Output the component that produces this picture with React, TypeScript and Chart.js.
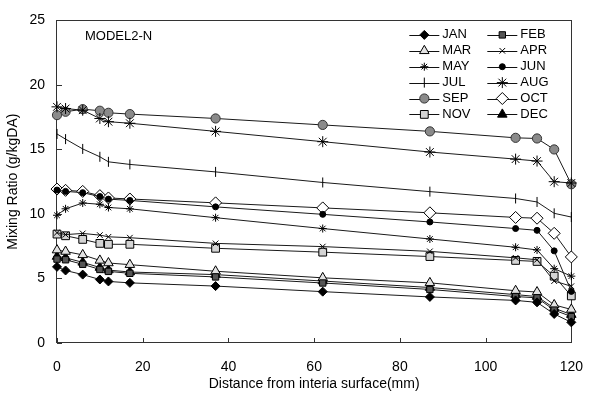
import React, { useEffect, useRef } from 'react';
import { Chart, registerables } from 'chart.js';
import { drawPoint } from 'chart.js/helpers';

Chart.register(...registerables);

// ---- data ----
const distances = [0, 2, 6, 10, 12, 17, 37, 62, 87, 107, 112, 116, 120];
const months = ['JAN', 'FEB', 'MAR', 'APR', 'MAY', 'JUN', 'JUL', 'AUG', 'SEP', 'OCT', 'NOV', 'DEC'];
const jan = [5.9, 5.62, 5.3, 4.92, 4.77, 4.66, 4.41, 3.98, 3.57, 3.3, 3.15, 2.25, 1.6];
const feb = [6.5, 6.45, 6.1, 5.7, 5.55, 5.4, 5.12, 4.65, 4.15, 3.6, 3.5, 2.55, 2.05];
const mar = [7.2, 7.09, 6.83, 6.4, 6.2, 6.07, 5.56, 5.05, 4.66, 4.05, 3.95, 2.95, 2.6];
const apr = [8.55, 8.4, 8.49, 8.36, 8.23, 8.16, 7.72, 7.47, 7.1, 6.6, 6.45, 4.8, 4.4];
const may = [9.9, 10.4, 10.85, 10.75, 10.5, 10.4, 9.71, 8.87, 8.06, 7.42, 7.21, 5.76, 5.18];
const jun = [11.85, 11.75, 11.65, 11.35, 11.15, 11.05, 10.55, 9.97, 9.38, 8.87, 8.73, 7.14, 4.0];
const jul = [16.2, 15.8, 15.04, 14.43, 14.04, 13.84, 13.26, 12.44, 11.73, 11.2, 10.93, 10.05, 9.76];
const aug = [18.3, 18.17, 18.04, 17.4, 17.15, 17.03, 16.4, 15.6, 14.8, 14.25, 14.1, 12.5, 12.4];
const sep = [17.66, 17.92, 18.12, 18.0, 17.84, 17.74, 17.4, 16.9, 16.4, 15.9, 15.85, 15.0, 12.3];
const oct = [11.93, 11.83, 11.75, 11.42, 11.24, 11.16, 10.86, 10.47, 10.09, 9.73, 9.67, 8.5, 6.67];
const nov = [8.44, 8.31, 8.03, 7.72, 7.65, 7.65, 7.34, 7.04, 6.7, 6.4, 6.32, 5.18, 3.65];
const dec = [6.7, 6.6, 6.25, 5.85, 5.65, 5.5, 5.3, 4.8, 4.3, 3.75, 3.6, 2.7, 2.2];
const seriesValues = [jan, feb, mar, apr, may, jun, jul, aug, sep, oct, nov, dec];
const xTicks = [0, 20, 40, 60, 80, 100, 120];
const yTicks = [0, 5, 10, 15, 20, 25];
const modelLabel = 'MODEL2-N';
const xTitle = 'Distance from interia surface(mm)';
const yTitle = 'Mixing Ratio (g/kgDA)';

// ---- marker styles ----
type MarkerStyle = { pointStyle: string; radius: number; bg: string; border: string; rotation?: number };
const markerStyles: MarkerStyle[] = [
  { pointStyle: 'rectRot', radius: 4.5, bg: '#000', border: '#000' },
  { pointStyle: 'rect', radius: 4.5, bg: '#555', border: '#000' },
  { pointStyle: 'triangle', radius: 5.5, bg: '#e2e2e2', border: '#000' },
  { pointStyle: 'crossRot', radius: 4, bg: '#000', border: '#000' },
  { pointStyle: 'star', radius: 4, bg: '#000', border: '#000' },
  { pointStyle: 'circle', radius: 3, bg: '#000', border: '#000' },
  { pointStyle: 'line', radius: 5, bg: '#000', border: '#000', rotation: 90 },
  { pointStyle: 'star', radius: 5.5, bg: '#000', border: '#000' },
  { pointStyle: 'circle', radius: 4.6, bg: '#8a8a8a', border: '#333' },
  { pointStyle: 'rectRot', radius: 6, bg: '#fff', border: '#000' },
  { pointStyle: 'rect', radius: 5.5, bg: '#d4d4d4', border: '#000' },
  { pointStyle: 'triangle', radius: 5.5, bg: '#000', border: '#000' },
];

const FONT = "'Liberation Sans', Arial, sans-serif";

const framePlugin = {
  id: 'frame',
  beforeDatasetsDraw(chart: any) {
    const { ctx, chartArea } = chart;
    const { left, right, top, bottom } = chartArea;
    const xs = chart.scales.x;
    const ys = chart.scales.y;
    ctx.save();
    ctx.strokeStyle = '#333';
    ctx.lineWidth = 1;
    ctx.strokeRect(Math.round(left) - 0.5, Math.round(top) + 0.5, Math.round(right) - Math.round(left) + 1, Math.round(bottom) - Math.round(top) - 1);
    ctx.beginPath();
    for (const v of xTicks) {
      const px = Math.round(xs.getPixelForValue(v)) + 0.5;
      ctx.moveTo(px, bottom);
      ctx.lineTo(px, bottom - 5);
    }
    for (const v of yTicks) {
      const py = Math.round(ys.getPixelForValue(v)) + 0.5;
      ctx.moveTo(left, py);
      ctx.lineTo(left + 5, py);
    }
    ctx.stroke();
    ctx.fillStyle = '#000';
    ctx.font = `13px ${FONT}`;
    ctx.textAlign = 'left';
    ctx.textBaseline = 'middle';
    ctx.fillText(modelLabel, left + 28, top + 16);
    ctx.restore();
  },
};

const legendPlugin = {
  id: 'customLegend',
  afterDraw(chart: any) {
    const { ctx, chartArea } = chart;
    const { right, top } = chartArea;
    ctx.save();
    ctx.font = `13px ${FONT}`;
    ctx.textBaseline = 'middle';
    ctx.textAlign = 'left';
    chart.data.datasets.forEach((ds: any, i: number) => {
      const row = Math.floor(i / 2);
      const col = i % 2;
      const y = top + 14.5 + row * 15.9;
      const x0 = col === 0 ? right - 162 : right - 84;
      const x1 = x0 + 30;
      ctx.strokeStyle = '#111';
      ctx.lineWidth = 1;
      ctx.beginPath();
      ctx.moveTo(x0, Math.round(y) + 0.5);
      ctx.lineTo(x1, Math.round(y) + 0.5);
      ctx.stroke();
      const m = markerStyles[i];
      ctx.fillStyle = m.bg;
      ctx.strokeStyle = m.border;
      ctx.lineWidth = 1;
      drawPoint(ctx, { pointStyle: m.pointStyle, radius: m.radius, rotation: m.rotation || 0, borderWidth: 1 } as any, (x0 + x1) / 2, y);
      ctx.fillStyle = '#000';
      ctx.fillText(ds.label, x1 + 3, y);
    });
    ctx.restore();
  },
};

export default function App() {
  const canvasRef = useRef<HTMLCanvasElement | null>(null);

  useEffect(() => {
    if (!canvasRef.current) return;
    const datasets = months.map((m, i) => {
      const s = markerStyles[i];
      return {
        label: m,
        data: distances.map((d, j) => ({ x: d, y: seriesValues[i][j] })),
        borderColor: '#1a1a1a',
        borderWidth: 1,
        pointStyle: s.pointStyle,
        pointRadius: s.radius,
        pointRotation: s.rotation || 0,
        pointBackgroundColor: s.bg,
        pointBorderColor: s.border,
        pointBorderWidth: 1,
        tension: 0,
        fill: false,
        clip: false,
      };
    });
    const chart = new Chart(canvasRef.current, {
      type: 'line',
      data: { datasets } as any,
      options: {
        animation: false,
        responsive: true,
        maintainAspectRatio: false,
        layout: { padding: { top: 16, right: 12, left: 0, bottom: 0 } },
        plugins: { legend: { display: false }, tooltip: { enabled: false } },
        scales: {
          x: {
            type: 'linear',
            min: 0,
            max: 120,
            afterFit: (scale: any) => { scale.height = 58; },
            afterBuildTicks: (scale: any) => { scale.ticks = xTicks.map((v) => ({ value: v })); },
            grid: { display: false, drawTicks: false },
            border: { display: false },
            ticks: { color: '#000', padding: 16, maxRotation: 0, font: { size: 14, family: FONT } },
            title: { display: true, text: xTitle, color: '#000', padding: { top: 0, bottom: 8.6 }, font: { size: 14, family: FONT } },
          },
          y: {
            type: 'linear',
            min: 0,
            max: 25,
            afterFit: (scale: any) => { scale.width = 57; },
            afterBuildTicks: (scale: any) => { scale.ticks = yTicks.map((v) => ({ value: v })); },
            grid: { display: false, drawTicks: false },
            border: { display: false },
            ticks: { color: '#000', padding: 12, font: { size: 14, family: FONT } },
            title: { display: true, text: yTitle, color: '#000', padding: { top: 4.6, bottom: 0 }, font: { size: 14, family: FONT } },
          },
        },
      } as any,
      plugins: [framePlugin, legendPlugin],
    });
    return () => chart.destroy();
  }, []);

  return (
    <div style={{ position: 'absolute', left: 0, top: 0, width: 599, height: 401, background: '#fff' }}>
      <canvas ref={canvasRef} />
    </div>
  );
}
